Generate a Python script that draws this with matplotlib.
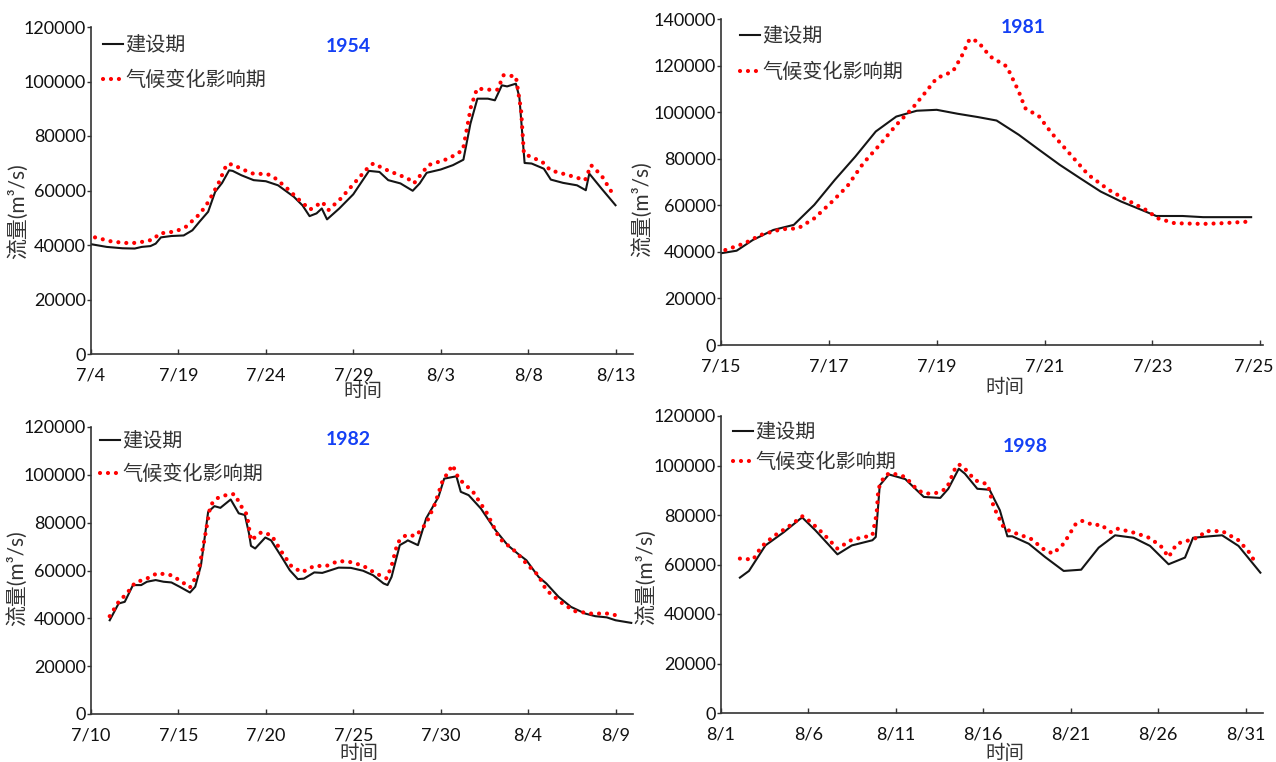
import matplotlib
matplotlib.use("Agg")
import matplotlib.pyplot as plt
from matplotlib.ticker import FixedLocator
from matplotlib.transforms import ScaledTranslation

plt.rcParams['font.family'] = ['Lato', 'Noto Sans CJK SC', 'DejaVu Sans']

# ---------------- data (day offset from first tick, flow in 1000 m3/s) ----------------
years = ['1954', '1981', '1982', '1998']
legend_labels = ['建设期', '气候变化影响期']

p1_ticks = ['7/4', '7/19', '7/24', '7/29', '8/3', '8/8', '8/13']
p1_black_d = [0, 0.9, 1.8, 2.5, 2.9, 3.4, 3.7, 4.0, 4.6, 5.3, 5.8, 6.2, 6.7, 7.1, 7.5, 7.9, 8.1, 8.6, 9.3, 10.0,
              10.7, 11.6, 12.1, 12.5, 12.9, 13.2, 13.5, 14.2, 15.0, 15.9, 16.5, 17.0, 17.7, 18.4, 18.8, 19.2,
              20.0, 20.7, 21.3, 21.7, 22.1, 22.7, 23.1, 23.5, 23.8, 24.3, 24.5, 24.8, 25.2, 25.9, 26.3, 27.0,
              27.8, 28.3, 28.5, 29.2, 30.0]
p1_black_q = [40.3, 39.3, 38.8, 38.7, 39.3, 39.6, 40.5, 42.8, 43.3, 43.5, 45.4, 48.5, 52.2, 59.5, 62.8, 67.4,
              67.2, 65.6, 63.8, 63.4, 61.9, 57.7, 54.5, 50.6, 51.6, 53.4, 49.4, 53.4, 58.6, 67.2, 66.8, 63.8,
              62.6, 59.9, 62.6, 66.5, 67.7, 69.3, 71.3, 84.5, 93.7, 93.7, 93.1, 98.6, 98.2, 99.2, 94.3, 70.1,
              69.9, 68.0, 64.0, 62.8, 61.9, 60.1, 66.2, 60.7, 54.6]
p1_red_d = [0.23, 1.23, 2.28, 2.98, 3.56, 3.91, 4.85, 5.43, 6.24, 6.71, 7.29, 7.76, 8.11, 8.57, 9.27, 10.09,
            10.44, 11.13, 11.83, 12.53, 13.23, 13.58, 14.28, 15.21, 15.79, 16.14, 16.96, 18.12, 18.47, 19.29,
            20.45, 21.27, 21.73, 22.08, 22.78, 23.25, 23.6, 24.3, 24.6, 24.76, 25.81, 26.28, 27.32, 28.26,
            28.6, 29.19, 29.77]
p1_red_q = [42.8, 41.2, 40.6, 41.2, 42.0, 44.2, 45.0, 46.7, 51.5, 55.8, 62.6, 69.6, 69.6, 68.0, 66.2, 66.0,
            65.0, 61.3, 57.0, 53.0, 55.8, 52.8, 57.0, 63.8, 68.0, 69.9, 67.4, 64.4, 62.6, 69.3, 71.7, 74.8,
            90.7, 97.4, 97.0, 97.0, 102.3, 101.9, 89.4, 73.5, 70.5, 67.4, 65.6, 63.8, 69.3, 65.6, 59.5]

p2_ticks = ['7/15', '7/17', '7/19', '7/21', '7/23', '7/25']
p2_black_d = [0, 0.29, 0.59, 0.97, 1.35, 1.73, 2.11, 2.49, 2.87, 3.25, 3.63, 4.0, 4.39, 4.76, 5.11, 5.52, 5.9,
              6.28, 6.66, 7.04, 7.42, 7.8, 8.07, 8.56, 8.94, 9.83]
p2_black_q = [39.4, 40.5, 45.1, 49.4, 51.6, 60.2, 70.9, 80.9, 91.7, 98.1, 100.6, 101.0, 99.3, 97.9, 96.4, 90.3,
              83.8, 77.4, 71.6, 65.9, 61.6, 58.0, 55.4, 55.4, 54.9, 54.9]
p2_red_d = [0.08, 0.44, 0.74, 1.12, 1.43, 1.73, 2.03, 2.34, 2.64, 2.94, 3.25, 3.55, 3.78, 4.0, 4.3, 4.46, 4.61,
            4.76, 4.99, 5.3, 5.52, 5.64, 5.9, 6.13, 6.43, 6.81, 7.19, 7.5, 7.88, 8.1, 8.41, 8.94, 9.3, 9.8]
p2_red_q = [40.8, 43.7, 47.3, 49.7, 50.1, 54.4, 60.9, 68.1, 78.1, 85.9, 94.5, 101.7, 108.2, 114.6, 117.5, 123.9,
            131.4, 130.4, 123.9, 119.6, 108.9, 101.7, 98.1, 91.0, 83.1, 73.1, 66.6, 62.6, 58.0, 54.4, 52.3,
            52.0, 52.3, 53.0]

p3_ticks = ['7/10', '7/15', '7/20', '7/25', '7/30', '8/4', '8/9']
p3_black_d = [1.07, 1.58, 1.93, 2.4, 2.87, 3.2, 3.7, 4.15, 4.6, 5.07, 5.66, 5.96, 6.29, 6.7, 7.06, 7.4, 7.99,
              8.45, 8.8, 9.04, 9.15, 9.39, 9.97, 10.3, 10.9, 11.37, 11.83, 12.18, 12.77, 13.23, 13.7, 14.16,
              14.86, 15.56, 16.14, 16.73, 16.96, 17.19, 17.66, 18.0, 18.12, 18.7, 19.17, 19.87, 20.2, 20.9,
              21.15, 21.6, 22.3, 23.13, 23.83, 24.4, 24.9, 25.6, 26.04, 26.74, 27.45, 28.26, 28.84, 29.5,
              30.0, 30.9]
p3_black_q = [39.2, 46.2, 46.9, 53.9, 53.9, 55.3, 56.0, 55.3, 55.0, 53.2, 50.8, 53.2, 62.2, 84.5, 86.9, 86.2,
              89.7, 83.9, 83.2, 75.4, 70.3, 69.2, 73.8, 72.6, 65.7, 60.1, 56.4, 56.6, 59.2, 59.0, 60.1, 61.2,
              61.1, 59.9, 58.0, 54.6, 53.9, 57.3, 70.6, 72.0, 72.6, 70.6, 81.8, 90.7, 98.4, 99.4, 92.9, 91.5,
              85.9, 76.9, 70.6, 67.1, 64.3, 57.3, 54.6, 49.0, 44.8, 42.0, 40.9, 40.4, 39.2, 38.1]
p3_red_d = [1.07, 1.58, 2.05, 2.52, 3.21, 3.8, 4.61, 5.19, 5.66, 6.13, 6.48, 6.83, 7.17, 7.87, 8.22, 8.57, 8.92,
            9.15, 9.74, 10.32, 10.9, 11.48, 12.07, 12.77, 13.46, 14.16, 14.86, 15.56, 16.26, 16.91, 17.19,
            17.54, 18.01, 18.59, 19.17, 19.64, 20.1, 20.68, 21.03, 21.85, 22.66, 23.36, 24.3, 24.99, 25.58,
            26.04, 26.97, 27.67, 28.6, 29.65, 30.35]
p3_red_q = [40.9, 46.9, 50.4, 54.9, 56.7, 58.9, 58.0, 55.3, 52.9, 58.9, 72.6, 87.2, 90.1, 91.9, 91.9, 87.1,
            83.3, 72.6, 76.0, 74.8, 67.8, 61.6, 59.3, 61.9, 61.9, 64.0, 63.5, 62.0, 58.9, 56.7, 61.9, 71.7,
            74.8, 74.5, 79.7, 87.2, 97.3, 104.1, 98.4, 92.9, 83.8, 73.4, 67.8, 62.2, 58.0, 51.8, 46.2, 43.0,
            42.0, 42.0, 40.6]

p4_ticks = ['8/1', '8/6', '8/11', '8/16', '8/21', '8/26', '8/31']
p4_black_d = [1.08, 1.6, 2.54, 3.6, 4.54, 4.66, 5.4, 6.66, 7.48, 8.66, 8.85, 9.08, 9.6, 10.54, 11.6, 12.54,
              13.0, 13.6, 13.95, 14.66, 15.36, 15.95, 16.38, 16.66, 17.6, 18.54, 19.6, 20.6, 21.6, 22.54,
              23.6, 24.54, 25.6, 26.54, 27.0, 27.95, 28.66, 29.6, 30.85]
p4_black_q = [54.7, 57.4, 67.7, 73.1, 78.5, 78.9, 73.8, 64.1, 67.7, 69.8, 71.1, 92.0, 96.4, 94.5, 87.3, 86.9,
              90.6, 98.7, 96.7, 90.6, 90.2, 81.9, 71.4, 71.4, 68.4, 63.0, 57.4, 57.9, 66.8, 71.8, 70.8, 67.5,
              60.1, 62.8, 70.8, 71.4, 71.8, 67.5, 56.7]
p4_red_d = [1.08, 1.84, 2.3, 3.0, 3.84, 4.66, 5.13, 5.84, 6.66, 7.48, 8.66, 8.9, 9.0, 9.36, 9.72, 10.54, 11.25,
            11.7, 12.3, 12.9, 13.36, 13.6, 13.95, 14.54, 15.25, 15.6, 16.2, 16.9, 17.72, 18.54, 19.0, 19.6,
            20.3, 20.66, 21.36, 21.7, 22.3, 22.65, 23.5, 24.4, 25.13, 25.6, 26.07, 26.78, 27.36, 27.7, 28.66,
            29.6, 30.2, 30.66]
p4_red_q = [62.4, 62.0, 67.1, 71.4, 75.2, 79.5, 77.2, 72.5, 66.4, 70.0, 71.8, 80.5, 90.6, 96.0, 97.0, 95.4,
            90.0, 88.6, 88.9, 90.6, 98.3, 100.5, 98.7, 94.0, 92.4, 83.2, 74.5, 72.5, 70.4, 65.7, 64.4, 68.4,
            76.5, 77.6, 75.8, 76.2, 73.1, 74.5, 73.1, 71.1, 67.7, 63.0, 68.4, 69.8, 71.1, 73.5, 73.5, 69.8,
            65.0, 59.7]

# ---------------- layout ----------------
W, H = 1276, 762
fig = plt.figure(figsize=(W / 100, H / 100), dpi=100)


def rect(l, r, t, b):
    return [l / W, 1 - b / H, (r - l) / W, (b - t) / H]


panels = [
    dict(rect=rect(91, 633, 27, 354), bd=p1_black_d, bq=p1_black_q, rd=p1_red_d, rq=p1_red_q,
         ticks=p1_ticks, step=5, xmax=31.0, ymax=120000, title=(0.474, 0.939),
         ylab=(-0.135, 0.437), xlab=(0.502, -0.116), leg=(0.022, 0.976), lspace=0.7),
    dict(rect=rect(721, 1263, 19, 345), bd=p2_black_d, bq=p2_black_q, rd=p2_red_d, rq=p2_red_q,
         ticks=p2_ticks, step=2, xmax=10.05, ymax=140000, title=(0.557, 0.975),
         ylab=(-0.146, 0.417), xlab=(0.524, -0.129), leg=(0.035, 0.979), lspace=0.75),
    dict(rect=rect(91, 633, 427, 714), bd=p3_black_d, bq=p3_black_q, rd=p3_red_d, rq=p3_red_q,
         ticks=p3_ticks, step=5, xmax=31.0, ymax=120000, title=(0.474, 0.955),
         ylab=(-0.137, 0.474), xlab=(0.495, -0.136), leg=(0.017, 0.986), lspace=0.6),
    dict(rect=rect(721, 1263, 416, 713), bd=p4_black_d, bq=p4_black_q, rd=p4_red_d, rq=p4_red_q,
         ticks=p4_ticks, step=5, xmax=31.0, ymax=120000, title=(0.562, 0.896),
         ylab=(-0.139, 0.458), xlab=(0.523, -0.135), leg=(0.022, 0.98), lspace=0.45),
]

cjk = ['Noto Sans CJK SC', 'DejaVu Sans']

for idx, (p, year) in enumerate(zip(panels, years)):
    ax = fig.add_axes(p['rect'])
    ax.plot(p['bd'], [v * 1000 for v in p['bq']], color='#151515', lw=1.5, label=legend_labels[0],
            solid_joinstyle='round')
    ax.plot(p['rd'], [v * 1000 for v in p['rq']], color='#FF0000', lw=3.0, linestyle=(0, (0.01, 1.9)),
            dash_capstyle='round', label=legend_labels[1])
    ax.set_xlim(0, p['xmax'])
    ax.set_ylim(0, p['ymax'])
    tick_pos = [i * p['step'] for i in range(len(p['ticks']))]
    ax.xaxis.set_major_locator(FixedLocator(tick_pos))
    ax.set_xticklabels(p['ticks'])
    ax.yaxis.set_major_locator(FixedLocator(list(range(0, p['ymax'] + 1, 20000))))
    ax.set_yticklabels([str(v) for v in range(0, p['ymax'] + 1, 20000)])
    for s in ['top', 'right']:
        ax.spines[s].set_visible(False)
    for s in ['left', 'bottom']:
        ax.spines[s].set_color('#333333')
        ax.spines[s].set_linewidth(1.2)
    ax.tick_params(axis='x', direction='in', length=3.5, width=1.0, color='#333333', pad=10,
                   labelsize=13, labelcolor='#111111')
    ax.tick_params(axis='y', direction='out', length=3, width=1.0, color='#333333', pad=0.5,
                   labelsize=13, labelcolor='#111111')
    if idx == 1:
        last = ax.get_xticklabels()[-1]
        last.set_ha('right')
        last.set_transform(last.get_transform() + ScaledTranslation(13 / 100, 0, fig.dpi_scale_trans))
    ax.set_ylabel('流量(m³/s)', fontsize=15, family=['Lato', 'Noto Sans CJK SC'], color='#333333')
    ax.yaxis.set_label_coords(*p['ylab'])
    ax.set_xlabel('时间', fontsize=14, family=cjk, color='#333333')
    ax.xaxis.set_label_coords(*p['xlab'])
    ax.xaxis.label.set_va('center')
    ax.yaxis.label.set_va('center')
    ax.text(p['title'][0], p['title'][1], year, transform=ax.transAxes, ha='center', va='center',
            fontsize=14, fontweight='bold', color='#1440F5', family='Lato')
    leg = ax.legend(loc='upper left', bbox_to_anchor=p['leg'], frameon=False, handlelength=1.0,
                    handletextpad=0.1, borderpad=0, borderaxespad=0, labelspacing=p['lspace'],
                    prop={'family': cjk, 'size': 14.5})
    for t in leg.get_texts():
        t.set_color('#333333')

fig.savefig('out.png', dpi=100)
